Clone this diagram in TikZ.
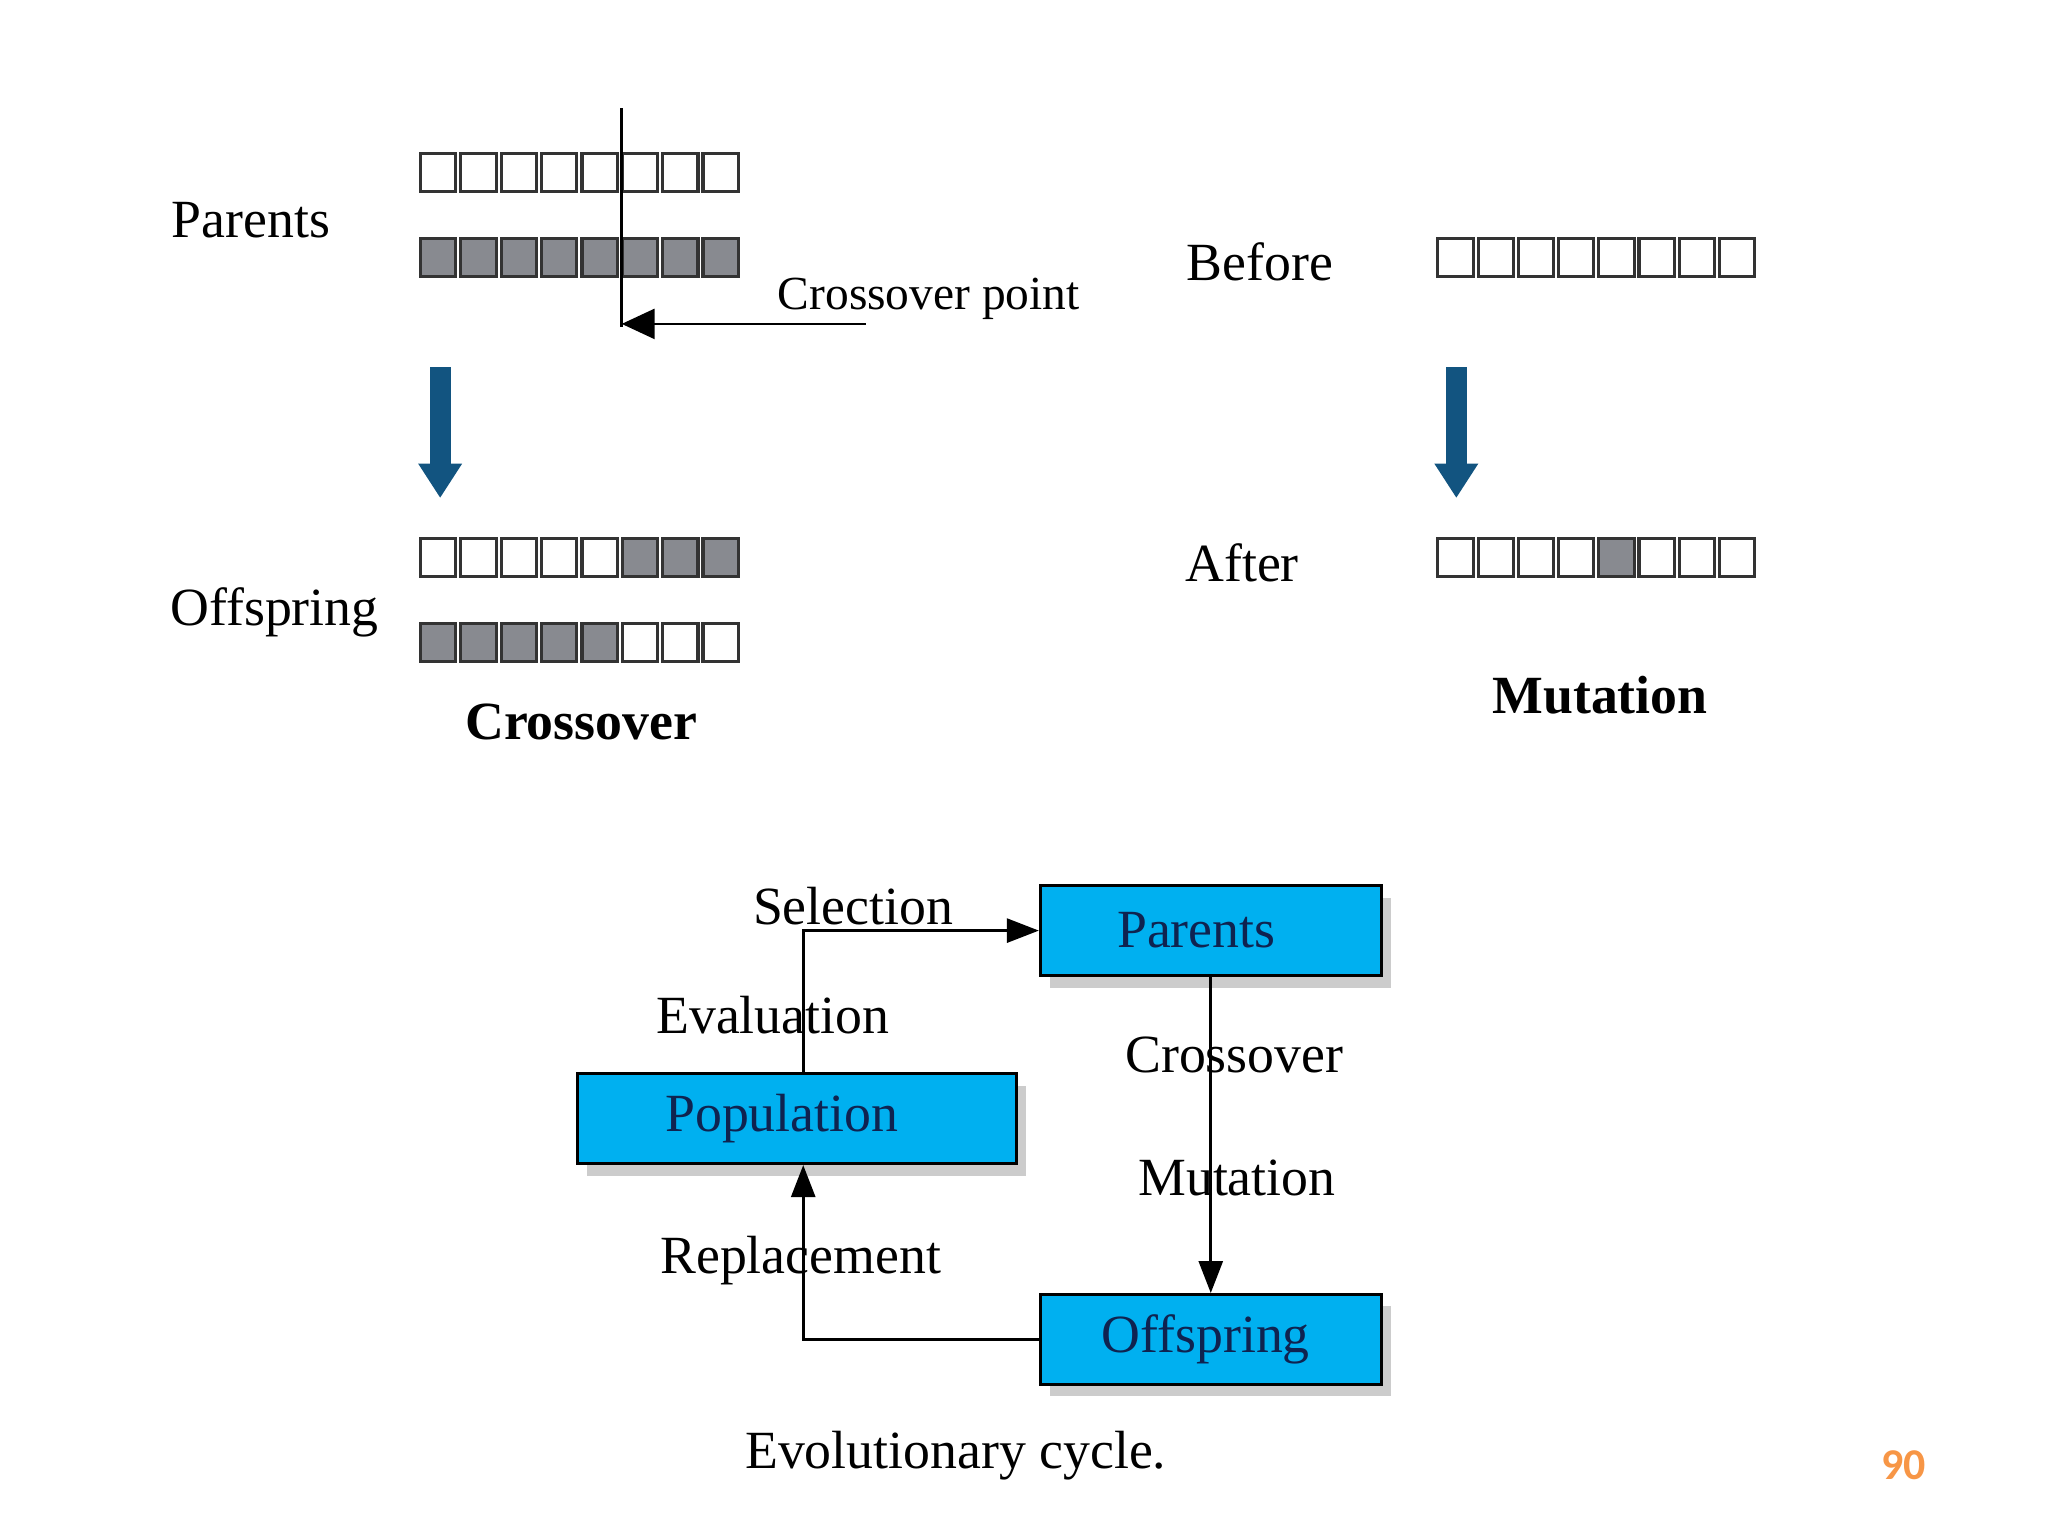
\documentclass[tikz,border=0pt]{standalone}
\usepackage{fontspec}
\setmainfont{Liberation Serif}
\newfontfamily\numfont{Carlito}
\usetikzlibrary{arrows.meta,positioning,calc,shadows}
\definecolor{genegray}{RGB}{136,138,144}
\definecolor{steelblue}{RGB}{18,84,128}
\definecolor{boxblue}{RGB}{0,176,240}
\definecolor{boxtext}{RGB}{15,35,80}
\definecolor{pageorange}{RGB}{247,150,70}
\newcommand{\txtsize}{\fontsize{15.3pt}{18pt}\selectfont}
\newcommand{\pointsize}{\fontsize{13.5pt}{16pt}\selectfont}

\begin{document}
\begin{tikzpicture}[
    x=0.013061cm, y=-0.013061cm,
    cell/.style={rectangle, draw=black!80, line width=0.9pt, minimum width=0.353cm, minimum height=0.379cm, inner sep=0pt},
    box/.style={rectangle, draw=black, line width=0.8pt, fill=boxblue, text=boxtext, minimum height=0.9cm, font=\txtsize,
        drop shadow={shadow xshift=0.1cm, shadow yshift=-0.12cm, fill=black!20, opacity=1}},
    arrow/.style={-{Triangle[length=0.32cm, width=0.24cm]}, line width=0.8pt},
    bigarrow/.style={-{Triangle[length=0.34cm, width=0.44cm, line width=0pt]}, line width=0.21cm, draw=steelblue, fill=steelblue},
    txt/.style={font=\txtsize, anchor=base west, inner sep=0pt}
]
\useasboundingbox (0,0) rectangle (1568,1176);

% Crossover: parents
\node[txt] (parlbl) at (131,182) {Parents};
\foreach \f [count=\i] in {white,white,white,white,white,white,white,white}
    \node[cell, fill=\f] (pa-\i) at ({320+(\i-0.5)*30.9},132) {};
\foreach \f [count=\i] in {genegray,genegray,genegray,genegray,genegray,genegray,genegray,genegray}
    \node[cell, fill=\f] (pb-\i) at ({320+(\i-0.5)*30.9},197) {};

% Crossover point
\coordinate (cuttop) at (476,83);
\coordinate (cutbot) at (476,250);
\draw[line width=0.8pt] (cuttop) -- (cutbot);
\node[txt, font=\pointsize] (cpoint) at (595,237) {Crossover point};
\coordinate (ptr) at (663,248);
\draw[-{Triangle[length=0.33cm, width=0.3cm]}, line width=0.8pt] (ptr) -- (ptr -| cutbot);

% Crossover: offspring
\coordinate (xtop) at (337,281);
\coordinate (xtip) at (337,381);
\draw[bigarrow] (xtop) -- (xtip);
\node[txt] (offlbl) at (130,479) {Offspring};
\foreach \f [count=\i] in {white,white,white,white,white,genegray,genegray,genegray}
    \node[cell, fill=\f] (oa-\i) at ({320+(\i-0.5)*30.9},427) {};
\foreach \f [count=\i] in {genegray,genegray,genegray,genegray,genegray,white,white,white}
    \node[cell, fill=\f] (ob-\i) at ({320+(\i-0.5)*30.9},492) {};
\node[txt, anchor=base, font=\txtsize\bfseries] (xtitle) at (445,566) {Crossover};

% Mutation
\node[txt] (beflbl) at (908,215) {Before};
\foreach \f [count=\i] in {white,white,white,white,white,white,white,white}
    \node[cell, fill=\f] (mb-\i) at ({1099+(\i-0.5)*30.8},197) {};
\coordinate (mtop) at (1115,281);
\coordinate (mtip) at (1115,381);
\draw[bigarrow] (mtop) -- (mtip);
\node[txt] (aftlbl) at (907,445) {After};
\foreach \f [count=\i] in {white,white,white,white,genegray,white,white,white}
    \node[cell, fill=\f] (ma-\i) at ({1099+(\i-0.5)*30.8},427) {};
\node[txt, anchor=base, font=\txtsize\bfseries] (mtitle) at (1225,546) {Mutation};

% Evolutionary cycle
\node[box, minimum width=3.41cm] (par) at (927,712.5) {\kern-0.29cm Parents};
\node[box, minimum width=4.39cm] (pop) at (610,856.5) {\kern-0.3cm Population};
\node[box, minimum width=3.41cm] (off) at (927,1025.5) {\kern-0.1cm Offspring};

\node[txt] (sel) at (576,708) {Selection};
\node[txt] (eva) at (502,791) {Evaluation};
\node[txt] (cro) at (861,821) {Crossover};
\node[txt] (mut) at (871,915) {Mutation};
\node[txt] (rep) at (505,975) {Replacement};

\draw[arrow] ([xshift=0.065cm]pop.north) |- (par.west);
\draw[arrow] (par.south) -- (off.north);
\draw[arrow] (off.west) -| ([xshift=0.065cm]pop.south);

\node[txt] (caption) at (570,1124) {Evolutionary cycle.};

\node[anchor=base west, inner sep=0pt, font=\numfont\bfseries\fontsize{12.5pt}{14pt}\selectfont, text=pageorange] (pagenum) at (1440,1133) {90};

\end{tikzpicture}
\end{document}
